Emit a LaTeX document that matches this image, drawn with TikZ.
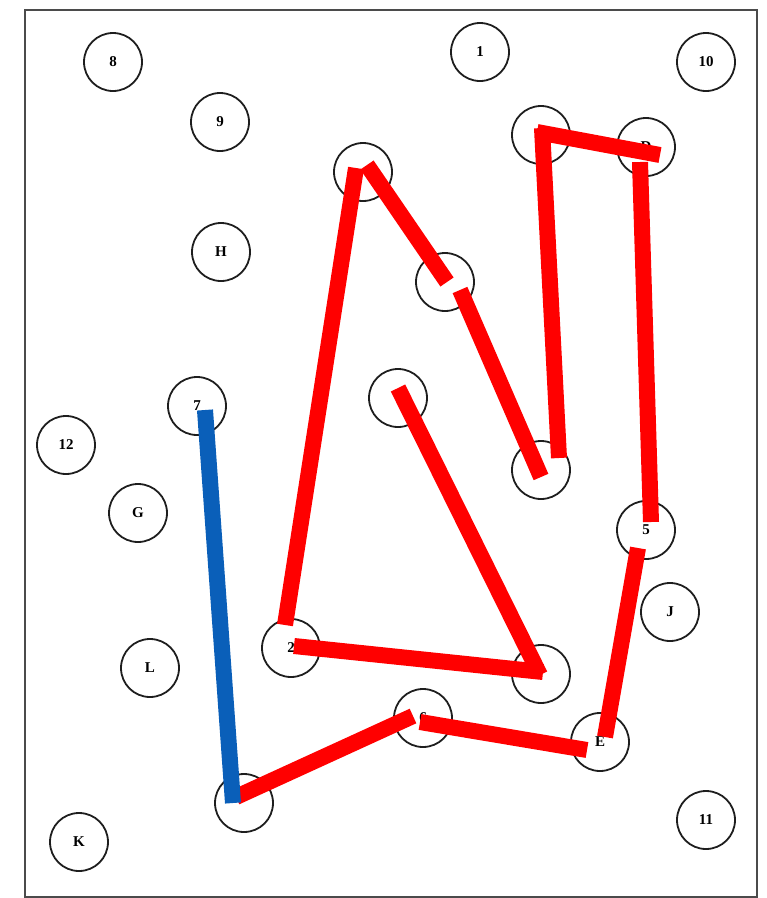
\documentclass[tikz,border=0pt]{standalone}
\usepackage{fontspec}
\setmainfont{Liberation Serif}
\usetikzlibrary{calc}
\definecolor{pathred}{RGB}{255,0,0}
\definecolor{pathblue}{RGB}{10,95,185}
\definecolor{ringgray}{RGB}{30,30,30}
\tikzset{
  circ/.style={circle, draw=ringgray, line width=1.8pt, minimum size=58pt, inner sep=0pt, font=\bfseries\fontsize{15}{15}\selectfont},
  redseg/.style={draw=pathred, line width=16pt},
  blueseg/.style={draw=pathblue, line width=16pt}
}
\begin{document}
\begin{tikzpicture}[x=1pt,y=-1pt]
\useasboundingbox (0,0) rectangle (767,898);
\draw[line width=2pt, draw=ringgray!80] (25,10) rectangle (757,897);
% nodes
\node[circ] (n8) at (113,62) {8};
\node[circ] (n1) at (480,52) {1};
\node[circ] (n10) at (706,62) {10};
\node[circ] (n9) at (220,122) {9};
\node[circ] (nT) at (541,135) {};
\node[circ] (nD) at (646,147) {D};
\node[circ] (nC) at (363,172) {};
\node[circ] (nH) at (221,252) {H};
\node[circ] (nM) at (445,282) {};
\node[circ] (n7) at (197,406) {7};
\node[circ] (n3) at (398,398) {};
\node[circ] (n12) at (66,445) {12};
\node[circ] (nN) at (541,470) {};
\node[circ] (nG) at (138,513) {G};
\node[circ] (n5) at (646,530) {5};
\node[circ] (nJ) at (670,612) {J};
\node[circ] (n2) at (291,648) {2};
\node[circ] (nL) at (150,668) {L};
\node[circ] (nA) at (541,674) {};
\node[circ] (n6) at (423,718) {6};
\node[circ] (nE) at (600,742) {E};
\node[circ] (n4) at (244,803) {};
\node[circ] (n11) at (706,820) {11};
\node[circ] (nK) at (79,842) {K};
% red path segments
\draw[redseg] ($(n2)+(-6,-23)$) -- ($(nC)+(-7,-4)$);
\draw[redseg] ($(nC)+(4,-7)$) -- ($(nM)+(2,0)$);
\draw[redseg] ($(nM)+(15,8)$) -- ($(nN)+(0,7)$);
\draw[redseg] ($(nN)+(18,-12)$) -- ($(nT)+(1,-7)$);
\draw[redseg] ($(nT)+(-4,-3)$) -- ($(nD)+(14,8)$);
\draw[redseg] ($(nD)+(-6,15)$) -- ($(n5)+(5,-8)$);
\draw[redseg] ($(n5)+(-8,18)$) -- ($(nE)+(5,-5)$);
\draw[redseg] ($(nE)+(-13,8)$) -- ($(n6)+(-3,4)$);
\draw[redseg] ($(n6)+(-10,-2)$) -- ($(n4)+(-8,-6)$);
\draw[redseg] ($(n3)+(0,-10)$) -- ($(nA)+(-1,1)$);
\draw[redseg] ($(nA)+(2,-2)$) -- ($(n2)+(3,-2)$);
% blue segment
\draw[blueseg] ($(n7)+(8,4)$) -- ($(n4)+(-11,0)$);
\end{tikzpicture}
\end{document}
